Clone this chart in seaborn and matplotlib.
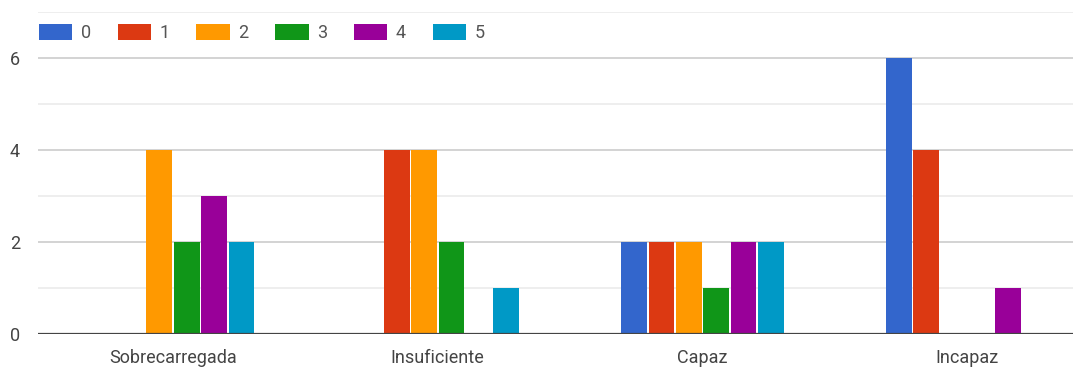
import matplotlib
matplotlib.use("Agg")
import matplotlib.pyplot as plt
import seaborn as sns
import pandas as pd

categories = ["Sobrecarregada", "Insuficiente", "Capaz", "Incapaz"]
series = ["0", "1", "2", "3", "4", "5"]
values_0 = [0, 0, 2, 6]
values_1 = [0, 4, 2, 4]
values_2 = [4, 4, 2, 0]
values_3 = [2, 2, 1, 0]
values_4 = [3, 0, 2, 1]
values_5 = [2, 1, 2, 0]
colors = ["#3366cc", "#dc3912", "#ff9900", "#109618", "#990099", "#0099c6"]

all_vals = [values_0, values_1, values_2, values_3, values_4, values_5]
rows = []
for s, vals in zip(series, all_vals):
    for c, v in zip(categories, vals):
        rows.append({"cat": c, "serie": s, "val": v})
df = pd.DataFrame(rows)

sns.set_theme(style="white")
plt.rcParams['font.family'] = ['Roboto', 'DejaVu Sans']

W, H = 1073, 370
fig = plt.figure(figsize=(W / 100, H / 100), dpi=100)
ax = fig.add_axes([38 / W, (H - 334) / H, (W - 38) / W, 322 / H])

sns.barplot(data=df, x="cat", y="val", hue="serie", order=categories,
            hue_order=series, palette=colors, width=0.62, gap=0.06,
            saturation=1, linewidth=0, edgecolor="none", ax=ax,
            errorbar=None, legend=True)

ax.set_xlim(-0.51, 3.40)
ax.set_ylim(0, 7)
ax.set_xlabel("")
ax.set_ylabel("")
ax.set_yticks([0, 2, 4, 6])
ax.set_yticks([1, 3, 5, 7], minor=True)
ax.set_axisbelow(True)
ax.grid(axis="y", which="major", color="#cccccc", linewidth=1.2)
ax.grid(axis="y", which="minor", color="#ebebeb", linewidth=1.2)
ax.grid(axis="x", visible=False)
ax.axhline(0, color="#444444", linewidth=1.6, zorder=5)
for sp in ax.spines.values():
    sp.set_visible(False)
ax.tick_params(axis="both", which="both", length=0, labelsize=13, colors="#444444")
ax.tick_params(axis="y", pad=13)
ax.tick_params(axis="x", pad=11)

handles, labels = ax.get_legend_handles_labels()
ax.legend(handles, labels, loc="center left",
          bbox_to_anchor=(39 / W, 1 - 33 / H), bbox_transform=fig.transFigure,
          ncol=6, frameon=False, fontsize=13, handlelength=1.85,
          handleheight=1.05, handletextpad=0.45, columnspacing=1.5,
          borderpad=0, borderaxespad=0, labelcolor="#555555")

fig.savefig("out.png", dpi=100, facecolor="white")
